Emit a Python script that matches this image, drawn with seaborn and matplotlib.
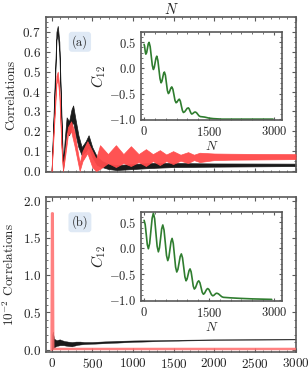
import numpy as np
import pandas as pd
import matplotlib
matplotlib.use("Agg")
import matplotlib.pyplot as plt
import seaborn as sns
from matplotlib.ticker import MultipleLocator, AutoMinorLocator

# ---------------- data ----------------
# Panel (a): envelopes of the rapidly oscillating correlation curves
a_black_N = [0, 30, 60, 76, 95, 120, 140, 160, 185, 215, 245, 265, 290, 330, 370,
             420, 455, 500, 560, 620, 700, 800, 1000, 1200, 1500, 2000, 3000]
a_black_hi = [0.0, 0.35, 0.70, 0.73, 0.65, 0.30, 0.03, 0.15, 0.27, 0.25, 0.31, 0.33,
              0.27, 0.18, 0.12, 0.15, 0.18, 0.12, 0.07, 0.05, 0.035, 0.03, 0.035,
              0.04, 0.04, 0.038, 0.037]
a_black_lo = [0.0, 0.30, 0.66, 0.69, 0.60, 0.25, 0.0, 0.10, 0.20, 0.18, 0.22, 0.25,
              0.19, 0.12, 0.08, 0.10, 0.12, 0.07, 0.03, 0.02, 0.01, 0.005, 0.01,
              0.015, 0.02, 0.022, 0.025]

a_red_N = [0, 30, 60, 76, 95, 120, 140, 165, 200, 240, 280, 320, 345, 380, 440,
           500, 546, 595, 693, 791, 883, 975, 1070, 1160, 1245, 1331, 1410, 1494,
           1585, 1678, 1750, 1822, 2000, 2200, 2500, 3000]
a_red_hi = [0.0, 0.25, 0.48, 0.50, 0.42, 0.15, 0.02, 0.10, 0.22, 0.25, 0.20, 0.10,
            0.04, 0.10, 0.15, 0.10, 0.06, 0.13, 0.085, 0.13, 0.085, 0.125, 0.085,
            0.11, 0.085, 0.105, 0.083, 0.10, 0.082, 0.095, 0.082, 0.092, 0.088,
            0.087, 0.086, 0.085]
a_red_lo = [0.0, 0.22, 0.44, 0.46, 0.38, 0.12, 0.0, 0.07, 0.18, 0.20, 0.13, 0.05,
            0.0, 0.05, 0.09, 0.02, 0.0, 0.01, 0.04, 0.02, 0.04, 0.025, 0.045,
            0.025, 0.05, 0.03, 0.05, 0.035, 0.052, 0.04, 0.055, 0.045, 0.055,
            0.057, 0.058, 0.06]

# Panel (b): values in units of 1e-2
b_black_N = [0, 8, 15, 30, 60, 100, 150, 200, 250, 300, 350, 400, 500, 600, 800,
             1000, 1300, 1600, 2000, 2500, 3000]
b_black_hi = [0.0, 0.20, 0.245, 0.15, 0.13, 0.14, 0.12, 0.11, 0.105, 0.11, 0.11,
              0.105, 0.105, 0.11, 0.12, 0.125, 0.13, 0.135, 0.14, 0.145, 0.147]
b_black_lo = [0.0, 0.0, 0.02, 0.03, 0.05, 0.06, 0.06, 0.05, 0.045, 0.06, 0.07,
              0.075, 0.08, 0.085, 0.095, 0.105, 0.115, 0.123, 0.13, 0.135, 0.138]

b_red_N = [0, 6, 14, 20, 3000]
b_red_val = [0.0, 1.83, 1.83, 0.01, 0.01]

# Insets: C12 versus N
ia_N = [0, 10, 20, 30, 40, 59, 78, 96, 115, 140, 165, 190, 215, 235, 254, 274,
        293, 318, 343, 368, 393, 412, 431, 450, 469, 492, 515, 538, 561, 581,
        600, 620, 640, 665, 690, 714, 739, 758, 777, 796, 815, 838, 861, 885,
        908, 937, 965, 994, 1023, 1042, 1061, 1081, 1100, 1120, 1140, 1160,
        1180, 1210, 1240, 1270, 1300, 1400, 1500, 1600, 1800, 2000, 2400, 2980]
ia_C = [0.46, 0.43, 0.365, 0.30, 0.27, 0.30, 0.385, 0.47, 0.50, 0.42, 0.235,
        0.05, -0.03, 0.01, 0.10, 0.19, 0.23, 0.15, -0.03, -0.21, -0.29, -0.26,
        -0.185, -0.11, -0.08, -0.14, -0.29, -0.44, -0.50, -0.48, -0.435, -0.39,
        -0.37, -0.415, -0.525, -0.635, -0.68, -0.67, -0.645, -0.62, -0.61,
        -0.65, -0.74, -0.83, -0.87, -0.857, -0.825, -0.79, -0.78, -0.80, -0.84,
        -0.88, -0.90, -0.894, -0.88, -0.866, -0.86, -0.873, -0.905, -0.937,
        -0.95, -0.96, -0.98, -0.99, -1.0, -1.0, -1.0, -1.0]

ib_N = [0, 25, 50, 74, 99, 128, 157, 186, 215, 244, 272, 301, 330, 355, 381,
        406, 432, 461, 490, 518, 547, 572, 597, 622, 647, 674, 701, 728, 755,
        781, 808, 834, 861, 888, 916, 943, 970, 993, 1016, 1039, 1062, 1087,
        1112, 1136, 1161, 1186, 1212, 1237, 1263, 1290, 1317, 1343, 1370, 1395,
        1420, 1446, 1471, 1500, 1529, 1558, 1587, 1610, 1633, 1656, 1679, 1718,
        1756, 1795, 1833, 2000, 2217, 2500, 2950]
ib_C = [0.54, 0.46, 0.265, 0.07, -0.01, 0.09, 0.335, 0.58, 0.68, 0.57, 0.305,
        0.04, -0.07, 0.006, 0.19, 0.374, 0.45, 0.35, 0.105, -0.14, -0.24,
        -0.177, -0.025, 0.127, 0.19, 0.095, -0.135, -0.365, -0.46, -0.41,
        -0.285, -0.16, -0.11, -0.186, -0.37, -0.554, -0.63, -0.596, -0.515,
        -0.434, -0.40, -0.457, -0.595, -0.733, -0.79, -0.767, -0.71, -0.653,
        -0.63, -0.668, -0.76, -0.852, -0.89, -0.874, -0.835, -0.796, -0.78,
        -0.80, -0.85, -0.90, -0.92, -0.913, -0.895, -0.877, -0.87, -0.882,
        -0.91, -0.938, -0.95, -0.96, -0.97, -0.98, -0.99]

main_xticks = [0, 500, 1000, 1500, 2000, 2500, 3000]
inset_xticks = [0, 1500, 3000]
inset_yticks = [-1.0, -0.5, 0.0, 0.5]

# ---------------- style ----------------
sns.set_style("ticks")
plt.rcParams["font.family"] = ["serif"]
plt.rcParams["font.serif"] = ["cmr10", "DejaVu Serif"]
plt.rcParams["mathtext.fontset"] = "cm"
plt.rcParams["axes.formatter.use_mathtext"] = True
plt.rcParams["axes.unicode_minus"] = True

FRAME = "#5a5a5a"
BLACK = "#1a1a1a"
RED = "#ff4a4a"
GREEN = "#2f7d2f"
fs = 9.5

fig = plt.figure(figsize=(3.08, 3.72), dpi=100)
ax_a = fig.add_axes([0.149, 0.5376, 0.812, 0.4167])
ax_b = fig.add_axes([0.149, 0.0538, 0.812, 0.4167])
in_a = fig.add_axes([0.458, 0.677, 0.458, 0.2366])
in_b = fig.add_axes([0.458, 0.191, 0.458, 0.239])


def style_axes(ax, fsz):
    for s in ax.spines.values():
        s.set_color(FRAME)
        s.set_linewidth(1.2)
    ax.tick_params(which="both", direction="in", top=True, right=True,
                   color=FRAME, labelsize=fsz, labelcolor="#222222")
    ax.tick_params(which="major", length=3, width=0.8)
    ax.tick_params(which="minor", length=1.6, width=0.6)


# Panel (a)
ax_a.fill_between(a_black_N, a_black_lo, a_black_hi, color=BLACK, lw=0.5,
                  edgecolor=BLACK, zorder=2)
ax_a.fill_between(a_red_N, a_red_lo, a_red_hi, color=RED, lw=0.5,
                  edgecolor=RED, alpha=0.95, zorder=3)
ax_a.set_xlim(-70, 3005)
ax_a.set_ylim(-0.005, 0.775)
ax_a.set_xticks(main_xticks)
ax_a.xaxis.set_minor_locator(AutoMinorLocator(5))
ax_a.yaxis.set_major_locator(MultipleLocator(0.1))
ax_a.yaxis.set_minor_locator(AutoMinorLocator(4))
ax_a.tick_params(labelbottom=False)
ax_a.xaxis.set_label_position("top")
ax_a.set_xlabel("$N$", fontsize=fs + 1, labelpad=2)
ax_a.set_ylabel("Correlations", fontsize=fs, labelpad=4)
style_axes(ax_a, fs)
ax_a.text(0.136, 0.84, "(a)", transform=ax_a.transAxes, ha="center", va="center",
          fontsize=fs - 0.5, zorder=5,
          bbox=dict(boxstyle="round,pad=0.25", fc="#dfe9f5", ec="none"))

# Panel (b)
ax_b.fill_between(b_black_N, b_black_lo, b_black_hi, color=BLACK, lw=0.25,
                  edgecolor=BLACK, zorder=2)
dfr = pd.DataFrame({"N": b_red_N, "v": b_red_val})
sns.lineplot(data=dfr, x="N", y="v", ax=ax_b, color="#ff6b6b", lw=1.8,
             alpha=0.85, zorder=3)
ax_b.set_xlim(-70, 3005)
ax_b.set_ylim(-0.03, 2.05)
ax_b.set_xticks(main_xticks)
ax_b.xaxis.set_minor_locator(AutoMinorLocator(5))
ax_b.yaxis.set_major_locator(MultipleLocator(0.5))
ax_b.yaxis.set_minor_locator(AutoMinorLocator(5))
ax_b.set_xlabel("")
ax_b.set_ylabel(r"$10^{-2}$ Correlations", fontsize=fs, labelpad=4)
style_axes(ax_b, fs)
ax_b.text(0.136, 0.837, "(b)", transform=ax_b.transAxes, ha="center", va="center",
          fontsize=fs - 0.5, zorder=5,
          bbox=dict(boxstyle="round,pad=0.25", fc="#dfe9f5", ec="none"))

# Insets
for ax_in, Nv, Cv in ((in_a, ia_N, ia_C), (in_b, ib_N, ib_C)):
    d = pd.DataFrame({"N": Nv, "C": Cv})
    sns.lineplot(data=d, x="N", y="C", ax=ax_in, color=GREEN, lw=1.2)
    ax_in.set_xlim(-70, 3190)
    ax_in.set_ylim(-1.02, 0.70)
    ax_in.set_xticks(inset_xticks)
    ax_in.set_yticks(inset_yticks)
    ax_in.xaxis.set_minor_locator(AutoMinorLocator(6))
    ax_in.yaxis.set_minor_locator(AutoMinorLocator(5))
    ax_in.set_xlabel("$N$", fontsize=fs, labelpad=1)
    ax_in.set_ylabel("$C_{12}$", fontsize=fs + 1.5, labelpad=1)
    style_axes(ax_in, fs - 0.5)
    ax_in.tick_params(which="major", length=2.5)

fig.savefig("out.png", dpi=100)
